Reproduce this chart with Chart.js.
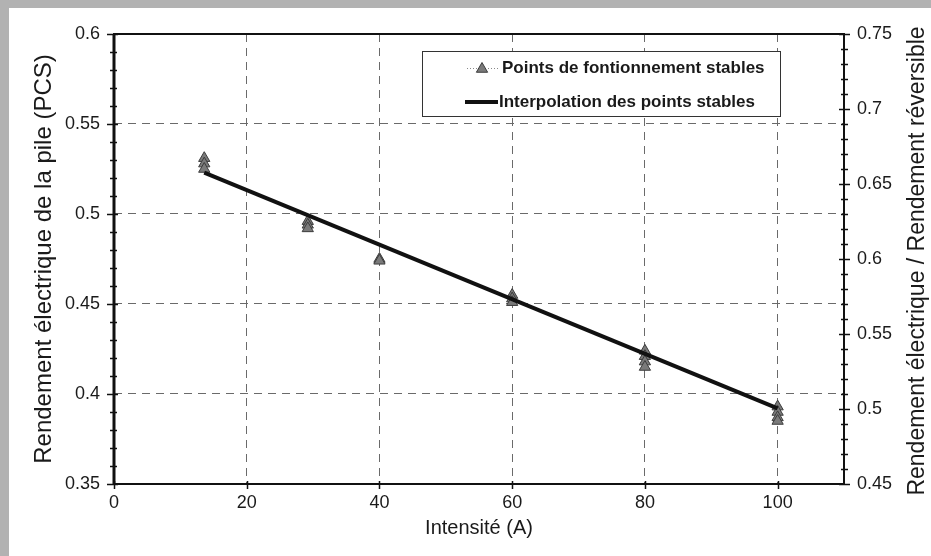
<!DOCTYPE html>
<html>
<head>
<meta charset="utf-8">
<script src="https://cdn.jsdelivr.net/npm/chart.js@4.4.0/dist/chart.umd.min.js"></script>
<style>
  html, body { margin: 0; padding: 0; background: #fff; }
  #wrap { width: 931px; height: 556px; }
</style>
</head>
<body>
<div id="wrap"><canvas id="effChart" width="931" height="556"></canvas></div>
<script>
// stable operating points: intensity (A) and electrical efficiency (PCS)
const pointsX = [13.6, 13.6, 13.6, 29.2, 29.2, 29.2, 40, 40, 60, 60, 60, 80, 80, 80, 80, 100, 100, 100, 100];
const pointsY = [0.531, 0.528, 0.525, 0.496, 0.494, 0.492, 0.475, 0.474, 0.455, 0.453, 0.451,
                 0.424, 0.421, 0.418, 0.415, 0.393, 0.390, 0.387, 0.385];

// interpolation line (end points)
const fitX = [13.6, 100];
const fitY = [0.523, 0.392];

// tick labels
const xTicks = [0, 20, 40, 60, 80, 100];
const yLeftTicks = [0.35, 0.4, 0.45, 0.5, 0.55, 0.6];
const yRightTicks = [0.45, 0.5, 0.55, 0.6, 0.65, 0.7, 0.75];

const legendLabels = ['Points de fontionnement stables', 'Interpolation des points stables'];
const xTitle = 'Intensité (A)';
const yLeftTitle = 'Rendement électrique de la pile (PCS)';
const yRightTitle = 'Rendement électrique / Rendement réversible';

const FONT = '"Liberation Sans", Arial, sans-serif';
const TEXT = '#1a1a1a';

function fmt(v) {
    return String(+v.toFixed(2));
}

// frame, minor ticks, legend and right title
const framePlugin = {
    id: 'frame',
    beforeDraw(chart) {
        const ctx = chart.ctx;
        ctx.save();
        ctx.fillStyle = '#fff';
        ctx.fillRect(0, 0, chart.width, chart.height);
        // scanned grey border top / left
        ctx.fillStyle = '#b2b2b2';
        ctx.fillRect(0, 0, chart.width, 8);
        ctx.fillRect(0, 0, 9, chart.height);
        ctx.restore();
    },
    afterDraw(chart) {
        const ctx = chart.ctx;
        const a = chart.chartArea;
        const x = chart.scales.x, y = chart.scales.y, y2 = chart.scales.y2;
        ctx.save();

        // axis ticks
        ctx.strokeStyle = '#111';
        ctx.lineWidth = 1.5;
        ctx.beginPath();
        for (let i = 0; i <= 25; i++) {
            const v = 0.35 + i * 0.01;
            const py = Math.round(y.getPixelForValue(v)) + 0.5;
            const major = i % 5 === 0;
            ctx.moveTo(a.left - (major ? 7 : 4), py);
            ctx.lineTo(a.left + (major ? 4 : 3), py);
        }
        for (let i = 0; i <= 30; i++) {
            const v = 0.45 + i * 0.01;
            const py = Math.round(y2.getPixelForValue(v)) + 0.5;
            const major = i % 5 === 0;
            ctx.moveTo(a.right - (major ? 5 : 3), py);
            ctx.lineTo(a.right + (major ? 6 : 4), py);
        }
        xTicks.forEach(t => {
            const px = Math.round(x.getPixelForValue(t)) + 0.5;
            ctx.moveTo(px, a.bottom - 3);
            ctx.lineTo(px, a.bottom + 5);
        });
        ctx.stroke();

        // plot frame
        ctx.lineWidth = 2;
        ctx.strokeRect(a.left, a.top, a.right - a.left, a.bottom - a.top);
        ctx.lineWidth = 3;
        ctx.beginPath();
        ctx.moveTo(a.left, a.top);
        ctx.lineTo(a.left, a.bottom + 1);
        ctx.stroke();

        // legend box
        const lx = 422, ly = 51, lw = 358, lh = 65;
        ctx.fillStyle = '#fff';
        ctx.fillRect(lx, ly, lw, lh);
        ctx.strokeStyle = '#333';
        ctx.lineWidth = 1;
        ctx.strokeRect(lx + 0.5, ly + 0.5, lw, lh);

        // row 1: triangle marker with thin dotted line
        ctx.strokeStyle = '#888';
        ctx.setLineDash([1, 2]);
        ctx.beginPath();
        ctx.moveTo(467, 68.5);
        ctx.lineTo(498, 68.5);
        ctx.stroke();
        ctx.setLineDash([]);
        const pts = chart.data.datasets[1];
        ctx.fillStyle = pts.backgroundColor;
        ctx.strokeStyle = pts.borderColor;
        ctx.lineWidth = pts.borderWidth;
        Chart.helpers.drawPoint(ctx, {
            pointStyle: 'triangle', radius: pts.pointRadius, rotation: 0,
            borderWidth: pts.borderWidth
        }, 482, 69);

        // row 2: thick line
        ctx.strokeStyle = '#111';
        ctx.lineWidth = 4;
        ctx.beginPath();
        ctx.moveTo(465, 102);
        ctx.lineTo(498, 102);
        ctx.stroke();

        ctx.fillStyle = TEXT;
        ctx.font = 'bold 17px ' + FONT;
        ctx.textAlign = 'left';
        ctx.textBaseline = 'middle';
        ctx.fillText(legendLabels[0], 502, 68);
        ctx.fillText(legendLabels[1], 499, 102);

        // right axis title, reading bottom to top
        ctx.translate(918, (a.top + a.bottom) / 2 + 2);
        ctx.rotate(-Math.PI / 2);
        ctx.font = '23px ' + FONT;
        ctx.textAlign = 'center';
        ctx.fillText(yRightTitle, 0, 0);
        ctx.restore();
    }
};

const ctx = document.getElementById('effChart').getContext('2d');
new Chart(ctx, {
    type: 'scatter',
    data: {
        datasets: [{
            label: legendLabels[1],
            data: fitX.map((v, i) => ({x: v, y: fitY[i]})),
            showLine: true,
            borderColor: '#111',
            borderWidth: 4,
            pointRadius: 0,
            order: 0
        }, {
            label: legendLabels[0],
            data: pointsX.map((v, i) => ({x: v, y: pointsY[i]})),
            pointStyle: 'triangle',
            pointRadius: 6.5,
            backgroundColor: '#7a7a7a',
            borderColor: '#3c3c3c',
            borderWidth: 1,
            order: 1
        }]
    },
    options: {
        responsive: false,
        animation: false,
        layout: { padding: { top: 34, left: 0, right: 0, bottom: 0 } },
        plugins: {
            legend: { display: false },
            tooltip: { enabled: false }
        },
        scales: {
            x: {
                type: 'linear',
                min: 0,
                max: 110,
                afterBuildTicks: s => { s.ticks = xTicks.map(v => ({value: v})); },
                afterFit: s => { s.height = 72; },
                grid: {
                    color: c => (c.tick.value === 0 ? 'rgba(0,0,0,0)' : '#6a6a6a'),
                    lineWidth: 1,
                    drawTicks: false
                },
                border: { display: false, dash: [8, 6] },
                ticks: {
                    color: TEXT,
                    font: { family: FONT, size: 18 },
                    padding: 8,
                    maxRotation: 0
                },
                title: {
                    display: true,
                    text: xTitle,
                    color: TEXT,
                    font: { family: FONT, size: 20 },
                    padding: { top: 0, bottom: 16 }
                }
            },
            y: {
                position: 'left',
                min: 0.35,
                max: 0.6,
                afterBuildTicks: s => { s.ticks = yLeftTicks.map(v => ({value: v})); },
                afterFit: s => { s.width = 114; },
                grid: {
                    color: c => ((c.tick.value < 0.36 || c.tick.value > 0.59) ? 'rgba(0,0,0,0)' : '#6a6a6a'),
                    lineWidth: 1,
                    drawTicks: false
                },
                border: { display: false, dash: [8, 6] },
                ticks: {
                    color: TEXT,
                    font: { family: FONT, size: 18 },
                    padding: 14,
                    callback: v => fmt(v)
                },
                title: {
                    display: true,
                    text: yLeftTitle,
                    color: TEXT,
                    font: { family: FONT, size: 24 },
                    padding: { top: 30, bottom: 0 }
                }
            },
            y2: {
                position: 'right',
                min: 0.45,
                max: 0.75,
                afterBuildTicks: s => { s.ticks = yRightTicks.map(v => ({value: v})); },
                afterFit: s => { s.width = 87; },
                grid: { drawOnChartArea: false, drawTicks: false },
                border: { display: false },
                ticks: {
                    color: TEXT,
                    font: { family: FONT, size: 18 },
                    padding: 13,
                    callback: v => fmt(v)
                }
            }
        }
    },
    plugins: [framePlugin]
});
</script>
</body>
</html>
